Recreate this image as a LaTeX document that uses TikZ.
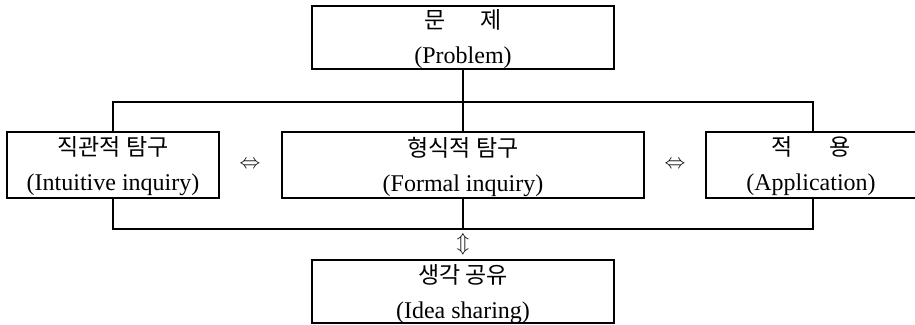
\documentclass[tikz,border=0pt]{standalone}
\usepackage{fontspec}
\setmainfont{Liberation Serif}
\newfontfamily\kr{Noto Sans CJK KR}
\newcommand{\krl}[1]{{\kr\fontsize{23}{35}\selectfont #1}}
\begin{document}
\begin{tikzpicture}[x=1pt,y=-1pt,
  box/.style={draw, line width=2.6pt, inner sep=0pt},
  txt/.style={inner sep=0pt, align=center, font=\fontsize{24}{35}\selectfont},
  link/.style={line width=1.5pt},
  sym/.style={inner sep=0pt, font=\fontsize{20}{20}\selectfont}]
\useasboundingbox (0,0) rectangle (915,324);
\node[box, minimum width=302pt, minimum height=63pt] (top) at (463,37.5) {};
\node[box, minimum width=212pt, minimum height=66pt] (left) at (113,165) {};
\node[box, minimum width=362pt, minimum height=66pt] (mid) at (463,165) {};
\node[box, minimum width=214pt, minimum height=66pt] (right) at (813,165) {};
\node[box, minimum width=302pt, minimum height=63pt] (bot) at (463,291.5) {};
\node[txt] (topt) at (463,39.5) {\krl{문\hspace{34pt}제}\\(Problem)};
\node[txt] (leftt) at (113,166.5) {\krl{직관적 탐구}\\(Intuitive inquiry)};
\node[txt] (midt) at (463,166.5) {\krl{형식적 탐구}\\(Formal inquiry)};
\node[txt] (rightt) at (811,166.5) {\krl{적\hspace{36pt}용}\\(Application)};
\node[txt] (bott) at (463,294) {\krl{생각 공유}\\(Idea sharing)};
\coordinate (tj) at (463,102);
\coordinate (bj) at (463,229);
\draw[link] (top.south) -- (mid.north);
\draw[link] (left.north) |- (tj) -| (right.north);
\draw[link] (left.south) |- (bj) -| (right.south);
\draw[link] (mid.south) -- (bj);
\node[sym] (a1) at (250,165) {$\Leftrightarrow$};
\node[sym] (a2) at (675,165) {$\Leftrightarrow$};
\node[sym, font=\fontsize{22}{22}\selectfont] (a3) at (463,244) {$\Updownarrow$};
\end{tikzpicture}
\end{document}
